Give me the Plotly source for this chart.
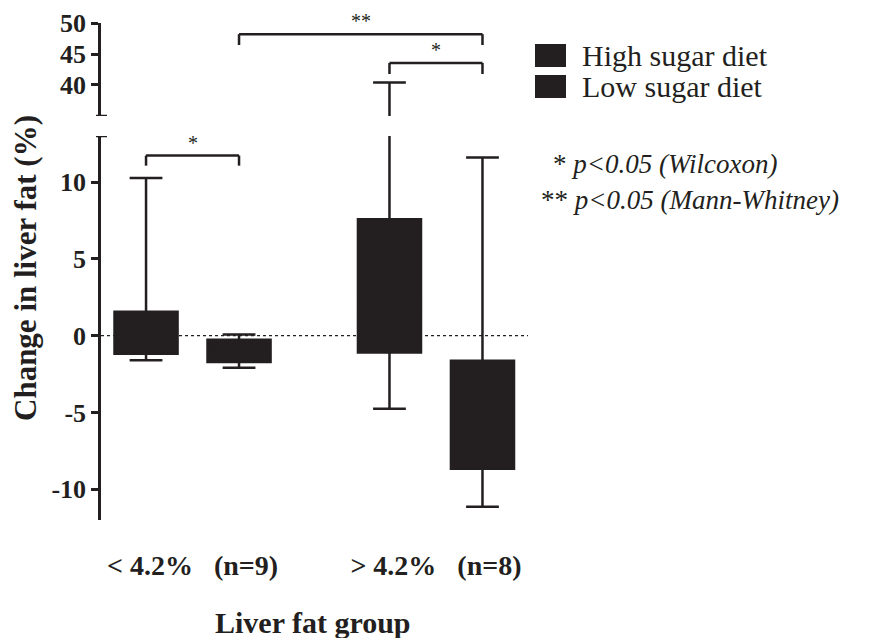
import plotly.graph_objects as go

# ---------------- data ----------------
groups = ["< 4.2%  (n=9)", "> 4.2%  (n=8)"]
group_labels = ["<\u00a04.2%\u00a0\u00a0\u00a0(n=9)",
                ">\u00a04.2%\u00a0\u00a0\u00a0(n=8)"]
series = ["High sugar diet", "Low sugar diet"]

high_q1 = [-1.17, -1.09]
high_median = [0.2, 2.0]
high_q3 = [1.56, 7.58]
high_lower = [-1.6, -4.76]
high_upper = [10.27, 40.4]

low_q1 = [-1.72, -8.66]
low_median = [-0.9, -4.5]
low_q3 = [-0.26, -1.63]
low_lower = [-2.08, -11.14]
low_upper = [0.07, 11.6]

lower_ticks = [-10, -5, 0, 5, 10]
lower_ticktext = ["-10", "-5", "0", "5", "10"]
upper_ticks = [40, 45, 50]
lower_range = [-12, 13]
upper_range = [35, 50]

# significance brackets: (axis, left box index, right box index, bar level, leg level, label)
brackets = [
    ("y", 0, 1, 11.73, 11.07, "*"),
    ("y2", 1, 3, 48.2, 46.45, "**"),
    ("y2", 2, 3, 43.55, 41.77, "*"),
]

# ---------------- style ----------------
INK = "#231f20"
SERIF = "Liberation Serif"
BOXGAP = 0.236
BOXGROUPGAP = 0.322
PAGE_PAD = 8  # default body margin of the html page
W, H = 883 - PAGE_PAD, 638 - PAGE_PAD
ML, MT = 101 - PAGE_PAD, 23 - PAGE_PAD
PW, PH = 427, 497
MR, MB = W - ML - PW, H - MT - PH
LOWER_DOM = [0, 0.7726]
UPPER_DOM = [0.8129, 1]

fig = go.Figure()

data_sets = [
    (series[0], high_q1, high_median, high_q3, high_lower, high_upper),
    (series[1], low_q1, low_median, low_q3, low_lower, low_upper),
]
for yax in ["y", "y2"]:
    for name, q1, med, q3, lo, up in data_sets:
        fig.add_trace(go.Box(
            name=name, x=groups, q1=q1, median=med, q3=q3,
            lowerfence=lo, upperfence=up,
            fillcolor=INK, line=dict(color=INK, width=2.5),
            whiskerwidth=0.52, boxpoints=False,
            offsetgroup=name, alignmentgroup="all",
            xaxis="x", yaxis=yax, showlegend=False, hoverinfo="skip",
        ))

# offsets of boxes inside a group, same formula as plotly's grouping
off = (1 - BOXGAP) / 4
box_pos = [0 - off, 0 + off, 1 - off, 1 + off]  # High<, Low<, High>, Low>

shapes = []
annotations = []


def px(xp):
    return (xp - 101) / PW


def py(yp):
    return (520 - yp) / PH


# dotted zero reference line
shapes.append(dict(type="line", xref="x domain", x0=0, x1=1, yref="y", y0=0, y1=0,
                   line=dict(color=INK, width=1.2, dash="dot"), layer="below"))

# end caps on broken axis
shapes.append(dict(type="line", xref="x domain", x0=-5 / PW, x1=6 / PW, yref="y",
                   y0=lower_range[1], y1=lower_range[1], line=dict(color=INK, width=2.5)))
shapes.append(dict(type="line", xref="x domain", x0=-5 / PW, x1=6 / PW, yref="y2",
                   y0=upper_range[0], y1=upper_range[0], line=dict(color=INK, width=2.5)))

for yref, i0, i1, bar, leg, lab in brackets:
    xa, xb = box_pos[i0], box_pos[i1]
    for (x0, y0, x1, y1) in [(xa, leg, xa, bar), (xa, bar, xb, bar), (xb, bar, xb, leg)]:
        shapes.append(dict(type="line", xref="x", yref=yref, x0=x0, y0=y0, x1=x1, y1=y1,
                           line=dict(color=INK, width=2.5)))
    annotations.append(dict(x=(xa + xb) / 2, y=bar, xref="x", yref=yref, text=lab,
                            showarrow=False, yanchor="bottom", yshift=0,
                            font=dict(family=SERIF, size=20, color=INK)))

# manual legend
leg_items = [(series[0], 44, 67), (series[1], 75, 98)]
for name, ytop, ybot in leg_items:
    shapes.append(dict(type="rect", xref="paper", yref="paper",
                       x0=px(535), x1=px(566), y0=py(ybot), y1=py(ytop),
                       fillcolor=INK, line=dict(width=0)))
    annotations.append(dict(x=px(580), y=py((ytop + ybot) / 2), xref="paper", yref="paper",
                            text=name, showarrow=False, xanchor="left", yanchor="middle",
                            font=dict(family=SERIF, size=30, color=INK)))

notes = [("* <i>p&lt;0.05 (Wilcoxon)</i>", 551, 164),
         ("** <i>p&lt;0.05 (Mann-Whitney)</i>", 539, 200)]
for txt, xl, yc in notes:
    annotations.append(dict(x=px(xl), y=py(yc), xref="paper", yref="paper",
                            text=txt, showarrow=False,
                            xanchor="left", yanchor="middle",
                            font=dict(family=SERIF, size=27, color=INK)))

# y-axis title spanning both segments
annotations.append(dict(x=px(25), y=py(268), xref="paper", yref="paper",
                        text="<b>Change in liver fat (%)</b>", textangle=-90,
                        showarrow=False, xanchor="center", yanchor="middle",
                        font=dict(family=SERIF, size=31, color=INK)))
# x-axis title
annotations.append(dict(x=px(313), y=py(622), xref="paper", yref="paper",
                        text="<b>Liver fat group</b>", showarrow=False,
                        xanchor="center", yanchor="middle",
                        font=dict(family=SERIF, size=30, color=INK)))

axis_common = dict(showline=True, linecolor=INK, linewidth=2.5, ticks="outside",
                   ticklen=7, tickwidth=2.5, tickcolor=INK, showgrid=False,
                   zeroline=False, tickfont=dict(family=SERIF, size=26, color=INK,
                                                 weight="bold"),
                   anchor="x", automargin=False)

fig.update_layout(
    width=W, height=H, autosize=False,
    margin=dict(l=ML, r=MR, t=MT, b=MB, pad=0),
    paper_bgcolor="white", plot_bgcolor="white",
    boxmode="group", boxgap=BOXGAP, boxgroupgap=BOXGROUPGAP,
    showlegend=False,
    font=dict(family=SERIF, color=INK),
    xaxis=dict(type="category", range=[-0.376, 1.378], showline=False, ticks="",
               showgrid=False, zeroline=False, tickvals=groups, ticktext=group_labels,
               tickfont=dict(family=SERIF, size=28, color=INK, weight="bold"),
               ticklabelstandoff=26, anchor="y", automargin=False),
    yaxis=dict(domain=LOWER_DOM, range=lower_range, tickvals=lower_ticks,
               ticktext=lower_ticktext, **axis_common),
    yaxis2=dict(domain=UPPER_DOM, range=upper_range, tickvals=upper_ticks, **axis_common),
    shapes=shapes, annotations=annotations,
)

fig.write_html("out.html")
